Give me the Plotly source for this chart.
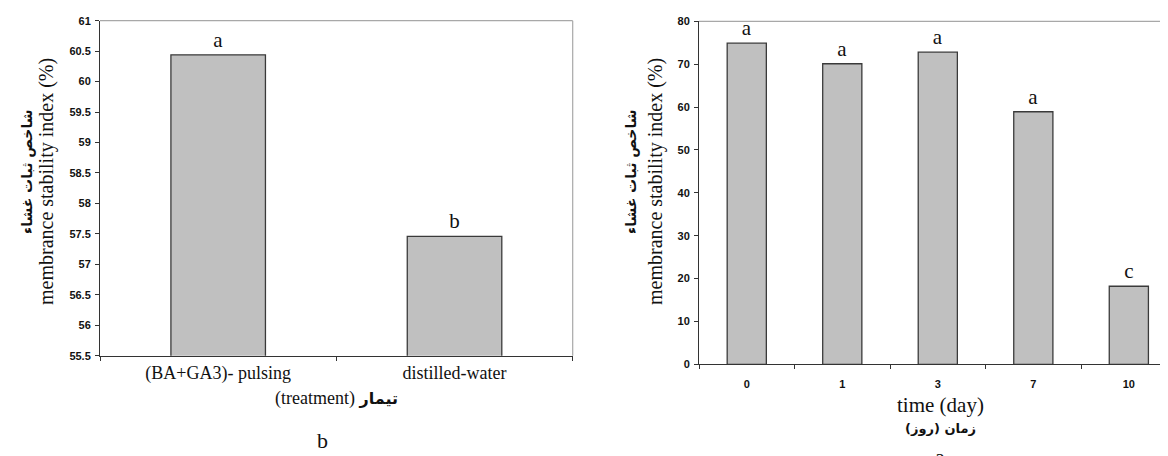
import plotly.graph_objects as go

# ---- data ----
treatments = ["(BA+GA3)- pulsing", "distilled-water"]
msi_treatment = [60.44, 57.46]
letters_treatment = ["a", "b"]

days = ["0", "1", "3", "7", "10"]
msi_time = [74.9, 70.1, 72.8, 58.9, 18.2]
letters_time = ["a", "a", "a", "a", "c"]

left_yticks = [55.5, 56, 56.5, 57, 57.5, 58, 58.5, 59, 59.5, 60, 60.5, 61]
left_yticklabels = ["55.5", "56", "56.5", "57", "57.5", "58", "58.5", "59", "59.5", "60", "60.5", "61"]
right_yticks = [0, 10, 20, 30, 40, 50, 60, 70, 80]

# page body has an 8px margin; the figure fills the rest of the 1168x456 window
OFF = 8
W, H = 1168 - OFF, 456 - OFF
SERIF = "Liberation Serif, Times New Roman, serif"
SANS = "Liberation Sans, Arial, sans-serif"
AR = "DejaVu Sans, sans-serif"
BAR_FILL = "#c0c0c0"
BAR_LINE = "#3a3a3a"
AXC = "#333333"
BORDER = "#a8a8a8"

def px(x):
    return (x - OFF) / W

def py(y):
    return 1 - (y - OFF) / H

fig = go.Figure()

fig.add_trace(go.Bar(
    x=treatments, y=msi_treatment, text=letters_treatment,
    textposition="outside", cliponaxis=False, width=0.4,
    marker=dict(color=BAR_FILL, line=dict(color=BAR_LINE, width=1.3)),
    textfont=dict(family=SERIF, size=21, color="#111"),
    xaxis="x", yaxis="y", showlegend=False, hoverinfo="skip",
))
fig.add_trace(go.Bar(
    x=days, y=msi_time, text=letters_time,
    textposition="outside", cliponaxis=False, width=0.41,
    marker=dict(color=BAR_FILL, line=dict(color=BAR_LINE, width=1.3)),
    textfont=dict(family=SERIF, size=21, color="#111"),
    xaxis="x2", yaxis="y2", showlegend=False, hoverinfo="skip",
))

common_y = dict(showline=True, linecolor=AXC, linewidth=1, ticks="outside", ticklen=4,
                tickcolor=AXC, showgrid=False, zeroline=False, automargin=False,
                tickfont=dict(family=SANS, size=11, color="#111", weight="bold"))
common_x = dict(showline=True, linecolor=AXC, linewidth=1, ticks="outside", ticklen=4,
                tickcolor=AXC, showgrid=False, zeroline=False, type="category",
                tickson="boundaries", automargin=False)

fig.update_layout(
    width=W, height=H,
    margin=dict(l=0, r=0, t=0, b=0, autoexpand=False),
    paper_bgcolor="white", plot_bgcolor="white",
    bargap=0.6,
    xaxis=dict(domain=[px(100), px(572.7)], range=[-0.5, 1.5], anchor="y",
               tickfont=dict(family=SERIF, size=18, color="#111"),
               ticklabelstandoff=1, **common_x),
    yaxis=dict(domain=[py(355.7), py(20.7)], range=[55.5, 61], anchor="x",
               tickvals=left_yticks, ticktext=left_yticklabels,
               ticklabelstandoff=2, **common_y),
    xaxis2=dict(domain=[px(699), 1.0], range=[-0.5, 4.41], anchor="y2",
                tickfont=dict(family=SANS, size=11, color="#111", weight="bold"),
                ticklabelstandoff=9, **common_x),
    yaxis2=dict(domain=[py(364.3), py(21.3)], range=[0, 80], anchor="x2",
                tickvals=right_yticks, ticklabelstandoff=2, **common_y),
)

# grey top/right borders
fig.add_shape(type="line", xref="x domain", yref="y domain", x0=0, x1=1, y0=1, y1=1,
              line=dict(color=BORDER, width=1.2))
fig.add_shape(type="line", xref="x domain", yref="y domain", x0=1, x1=1, y0=0, y1=1,
              line=dict(color=BORDER, width=1.2))
fig.add_shape(type="line", xref="x2 domain", yref="y2 domain", x0=0, x1=1, y0=1, y1=1,
              line=dict(color=BORDER, width=1.2))

def ann(text, x, y, size, family=SERIF, angle=0, yanchor="middle", xanchor="center"):
    fig.add_annotation(text=text, x=px(x), y=py(y), xref="paper", yref="paper",
                       showarrow=False, textangle=angle, xanchor=xanchor, yanchor=yanchor,
                       font=dict(family=family, size=size, color="#111"))

ar_title = "<b>شاخص ثبات غشاء</b>"
en_title = "membrance stability index (%)"

# left y title
ann(ar_title, 27, 172, 14, family=AR, angle=-90)
ann(en_title, 46, 182, 20, angle=-90)
# right y title
ann(ar_title, 631, 172, 14, family=AR, angle=-90)
ann(en_title, 655, 182, 20, angle=-90)

# x titles
ann("(treatment) <span style='font-family:DejaVu Sans;font-size:16px'><b>تیمار</b></span>", 336, 398, 18)
ann("time (day)", 940, 405, 21)
ann("<b>\u200fزمان (روز)\u200f</b>", 940, 428, 13, family=AR)

# panel captions (the lower "a" is cut by the window edge, as in the reference)
ann("b", 322, 440, 22)
ann("a", 940, 442, 22, yanchor="top")

fig.write_html("out.html")
